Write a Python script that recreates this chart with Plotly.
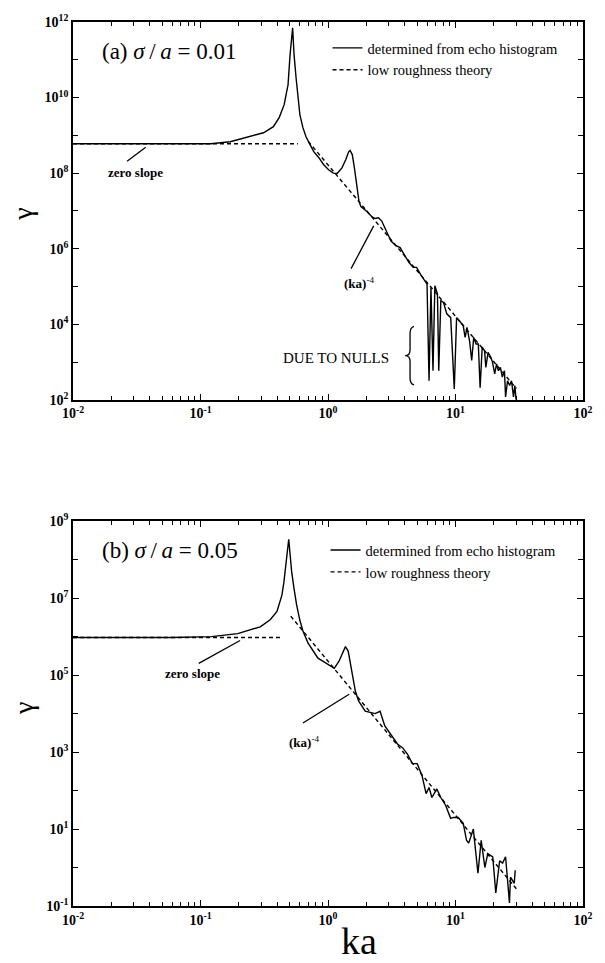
import plotly.graph_objects as go

# ---------------- panel (a): sigma/a = 0.01 ----------------
ka_a = [0.01, 0.06, 0.12, 0.171, 0.244, 0.312, 0.373, 0.415, 0.453, 0.486, 0.504, 0.516,
        0.528, 0.535, 0.542, 0.562, 0.582, 0.602, 0.636, 0.671, 0.708, 0.773, 0.845, 0.923,
        1.01, 1.10, 1.18, 1.29, 1.38, 1.45, 1.49, 1.55, 1.61, 1.68, 1.75, 1.81, 2.0, 2.2,
        2.35, 2.49, 2.64, 2.86, 3.12, 3.41, 3.68, 3.95, 4.32, 4.66, 4.95, 5.32, 5.71, 5.98,
        6.20, 6.42, 6.66, 6.89, 7.22, 7.39, 7.67, 8.05, 8.54, 9.17, 9.78, 10.2, 10.8, 11.5,
        11.9, 12.3, 12.9, 13.4, 13.9, 14.5, 15.1, 15.6, 16.2, 16.9, 17.3, 18.0, 18.9, 19.5,
        20.3, 21.0, 21.7, 22.5, 23.3, 24.2, 24.7, 25.6, 26.6, 27.5, 28.5, 29.2, 29.9]
gamma_a = [6.0e8, 6.0e8, 6.0e8, 6.8e8, 9.3e8, 1.17e9, 1.7e9, 3.0e9, 6.5e9, 2.2e10, 1.35e11, 3.4e11,
           7.0e11, 3.0e11, 1.35e11, 3.3e10, 1.0e10, 3.5e9, 1.6e9, 9.3e8, 6.5e8, 3.7e8, 2.6e8, 1.7e8,
           1.23e8, 1.0e8, 9.8e7, 1.4e8, 2.3e8, 3.6e8, 4.0e8, 3.1e8, 1.4e8, 5.0e7, 1.8e7, 1.3e7, 1.0e7, 7.1e6,
           6.3e6, 6.6e6, 5.4e6, 3.0e6, 1.6e6, 1.2e6, 1.07e6, 7.1e5, 4.3e5, 3.2e5, 3.2e5, 2.1e5, 1.5e5, 1.15e5,
           3.2e2, 9.3e4, 5.9e2, 1.05e5, 6.3e4, 5.9e2, 4.2e4, 3.8e4, 1.9e4, 1.5e4, 1.95e2, 1.5e4, 1.2e4, 9.1e3,
           4.5e3, 8.3e3, 3.6e3, 1.1e3, 4.5e3, 3.0e3, 3.0e3, 2.1e2, 2.5e3, 2.0e3, 7.2e2, 1.8e3, 1.35e3, 1.0e3,
           4.9e2, 8.9e2, 5.9e2, 7.2e2, 4.0e2, 5.9e2, 1.2e2, 3.2e2, 2.4e2, 3.2e2, 1.2e2, 2.4e2, 9.5e1]
# low roughness theory: flat level, then the (ka)^-4 line
ka_a_theory = [0.01, 0.58, None, 0.70, 30.0]
gamma_a_theory = [6.0e8, 6.0e8, None, 6.9e8, 2.0e2]

# ---------------- panel (b): sigma/a = 0.05 ----------------
ka_b = [0.01, 0.06, 0.122, 0.196, 0.294, 0.352, 0.398, 0.435, 0.451, 0.467, 0.484, 0.492,
        0.505, 0.519, 0.541, 0.567, 0.601, 0.638, 0.698, 0.764, 0.834, 0.910, 1.02, 1.12,
        1.22, 1.31, 1.37, 1.44, 1.50, 1.57, 1.64, 1.74, 1.96, 2.34, 2.56, 2.79,
        3.16, 3.52, 3.84, 4.20, 4.59, 5.01, 5.47, 5.88, 6.20, 6.53, 7.14, 7.67, 8.38,
        9.16, 9.66, 10.5, 11.5, 12.2, 12.7, 13.8, 15.0, 15.9, 17.0, 17.9, 19.6, 20.7,
        22.2, 23.4, 24.7, 25.6, 26.5, 27.0, 27.9, 28.9, 29.4]
gamma_b = [9.5e5, 9.5e5, 1.0e6, 1.2e6, 1.8e6, 2.75e6, 4.5e6, 1.2e7, 2.6e7, 7.2e7, 1.9e8, 3.4e8,
           1.3e8, 4.8e7, 1.8e7, 6.8e6, 2.7e6, 1.35e6, 6.8e5, 4.2e5, 2.75e5, 2.3e5, 1.8e5, 1.5e5,
           2.3e5, 4.2e5, 5.5e5, 4.2e5, 1.9e5, 6.9e4, 3.8e4, 2.1e4, 1.15e4, 1.0e4, 1.15e4, 4.8e3,
           2.6e3, 1.6e3, 1.3e3, 8.9e2, 5.0e2, 5.0e2, 2.4e2, 8.3e1, 1.2e2, 6.6e1, 1.1e2, 6.6e1, 4.1e1,
           1.9e1, 2.0e1, 2.0e1, 1.4e1, 5.1, 4.3, 1.0e1, 0.71, 5.1, 1.0, 2.3, 1.9, 0.22,
           1.5, 1.3, 1.9, 0.52, 0.12, 0.56, 0.47, 0.39, 0.85]
ka_b_theory = [0.01, 0.42, None, 0.51, 30.0]
gamma_b_theory = [9.5e5, 9.5e5, None, 3.4e6, 0.28]

# ---------------- axis ticks ----------------
x_tickvals = [0.01, 0.1, 1, 10, 100]
x_ticktext = ["10<sup>-2</sup>", "10<sup>-1</sup>", "10<sup>0</sup>", "10<sup>1</sup>", "10<sup>2</sup>"]
ya_tickvals = [1e2, 1e4, 1e6, 1e8, 1e10, 1e12]
ya_ticktext = ["10<sup>2</sup>", "10<sup>4</sup>", "10<sup>6</sup>", "10<sup>8</sup>", "10<sup>10</sup>", "10<sup>12</sup>"]
ya_minor = [1e3, 1e5, 1e7, 1e9, 1e11]
yb_tickvals = [1e-1, 1e1, 1e3, 1e5, 1e7, 1e9]
yb_ticktext = ["10<sup>-1</sup>", "10<sup>1</sup>", "10<sup>3</sup>", "10<sup>5</sup>", "10<sup>7</sup>", "10<sup>9</sup>"]
yb_minor = [1e0, 1e2, 1e4, 1e6, 1e8]

legend_names = ["determined from echo histogram", "low roughness theory"]

SERIF = "Liberation Serif"
W, H = 605, 963
ML, MR, MT, MB = 73, 13, 17, 57


def px(x):
    return (x - ML) / (W - ML - MR)


def py(y):
    return 1 - (y - MT) / (H - MT - MB)


x_minor = [m * 10 ** e for e in range(-2, 2) for m in range(2, 10)]

fig = go.Figure()
solid = dict(color="black", width=1.4)
dashed = dict(color="black", width=1.4, dash="4px,3px")

fig.add_trace(go.Scatter(x=ka_a, y=gamma_a, mode="lines", line=solid,
                         name=legend_names[0], legend="legend", xaxis="x", yaxis="y"))
fig.add_trace(go.Scatter(x=ka_a_theory, y=gamma_a_theory, mode="lines", line=dashed,
                         name=legend_names[1], legend="legend", xaxis="x", yaxis="y"))
fig.add_trace(go.Scatter(x=ka_b, y=gamma_b, mode="lines", line=solid,
                         name=legend_names[0], legend="legend2", xaxis="x2", yaxis="y2"))
fig.add_trace(go.Scatter(x=ka_b_theory, y=gamma_b_theory, mode="lines", line=dashed,
                         name=legend_names[1], legend="legend2", xaxis="x2", yaxis="y2"))

tickfont = dict(family=SERIF, size=14, color="black", weight="bold")
common_axis = dict(type="log", showline=True, linecolor="black", linewidth=1.6,
                   mirror="ticks", ticks="inside", ticklen=6, tickwidth=1.2, tickcolor="black",
                   showgrid=False, zeroline=False, tickfont=tickfont)
minor_x = dict(tickvals=x_minor, ticks="inside", ticklen=4, tickcolor="black", tickwidth=1)

fig.update_layout(
    width=W, height=H,
    margin=dict(l=ML, r=MR, t=MT, b=MB),
    paper_bgcolor="white", plot_bgcolor="white",
    font=dict(family=SERIF, color="black"),
    xaxis=dict(domain=[0, 1], anchor="y", range=[-2, 2], tickvals=x_tickvals, ticktext=x_ticktext,
               minor=minor_x, **common_axis),
    yaxis=dict(domain=[py(397), 1], anchor="x", range=[2, 12], tickvals=ya_tickvals, ticktext=ya_ticktext,
               minor=dict(tickvals=ya_minor, ticks="inside", ticklen=5, tickcolor="black", tickwidth=1),
               **common_axis),
    xaxis2=dict(domain=[0, 1], anchor="y2", range=[-2, 2], tickvals=x_tickvals, ticktext=x_ticktext,
                minor=minor_x, **common_axis),
    yaxis2=dict(domain=[0, py(519)], anchor="x2", range=[-1, 9], tickvals=yb_tickvals, ticktext=yb_ticktext,
                minor=dict(tickvals=yb_minor, ticks="inside", ticklen=5, tickcolor="black", tickwidth=1),
                **common_axis),
    legend=dict(x=px(332), y=py(27), xanchor="left", yanchor="top", bgcolor="rgba(0,0,0,0)",
                font=dict(family=SERIF, size=14.5, color="black"), itemwidth=30, tracegroupgap=0),
    legend2=dict(x=px(330), y=py(532), xanchor="left", yanchor="top", bgcolor="rgba(0,0,0,0)",
                 font=dict(family=SERIF, size=14.5, color="black"), itemwidth=30, tracegroupgap=0),
    showlegend=True,
)

label_a = "(a) <i>σ</i>\u2009/\u2009<i>a</i> = 0.01"
label_b = "(b) <i>σ</i>\u2009/\u2009<i>a</i> = 0.05"
annotations = [
    dict(x=px(100), y=py(47), text=label_a, xanchor="left", font=dict(size=23)),
    dict(x=px(100), y=py(548), text=label_b, xanchor="left", font=dict(size=23)),
    dict(x=px(137), y=py(168), text="<b>zero slope</b>", font=dict(size=13)),
    dict(x=px(195), y=py(672), text="<b>zero slope</b>", font=dict(size=13)),
    dict(x=px(364), y=py(279), text="<b>(ka)</b><sup>-4</sup>", font=dict(size=13)),
    dict(x=px(308), y=py(741), text="<b>(ka)</b><sup>-4</sup>", font=dict(size=13)),
    dict(x=px(341), y=py(355), text="DUE TO NULLS", font=dict(size=15)),
    dict(x=px(22), y=py(210), text="γ", textangle=-90, font=dict(size=28)),
    dict(x=px(22), y=py(707), text="γ", textangle=-90, font=dict(size=28)),
    dict(x=px(364), y=py(941), text="ka", font=dict(size=38)),
]
for a in annotations:
    a.setdefault("xanchor", "center")
    a.update(xref="paper", yref="paper", yanchor="middle", showarrow=False)
fig.update_layout(annotations=annotations)

pointer_lines = [
    ((128, 157), (147, 143)),
    ((201, 662), (243, 639)),
    ((356, 265), (379, 222)),
    ((307, 722), (354, 693)),
]
shapes = []
for (x0, y0), (x1, y1) in pointer_lines:
    shapes.append(dict(type="line", xref="paper", yref="paper", x0=px(x0), y0=py(y0), x1=px(x1), y1=py(y1),
                       line=dict(color="black", width=1.3)))


def brace_path(xc, ytop, ybot):
    ym = (ytop + ybot) / 2
    pts = [
        ("M", [(xc + 4, ytop)]),
        ("Q", [(xc, ytop + 1), (xc, ytop + 7)]),
        ("L", [(xc, ym - 6)]),
        ("Q", [(xc, ym), (xc - 5, ym)]),
        ("Q", [(xc, ym), (xc, ym + 6)]),
        ("L", [(xc, ybot - 7)]),
        ("Q", [(xc, ybot - 1), (xc + 4, ybot)]),
    ]
    out = []
    for cmd, coords in pts:
        out.append(cmd + " ".join(f"{px(x):.5f},{py(y):.5f}" for x, y in coords))
    return " ".join(out)


shapes.append(dict(type="path", xref="paper", yref="paper", path=brace_path(416, 323, 382),
                   line=dict(color="black", width=1.3)))
fig.update_layout(shapes=shapes)

fig.write_html("out.html")
